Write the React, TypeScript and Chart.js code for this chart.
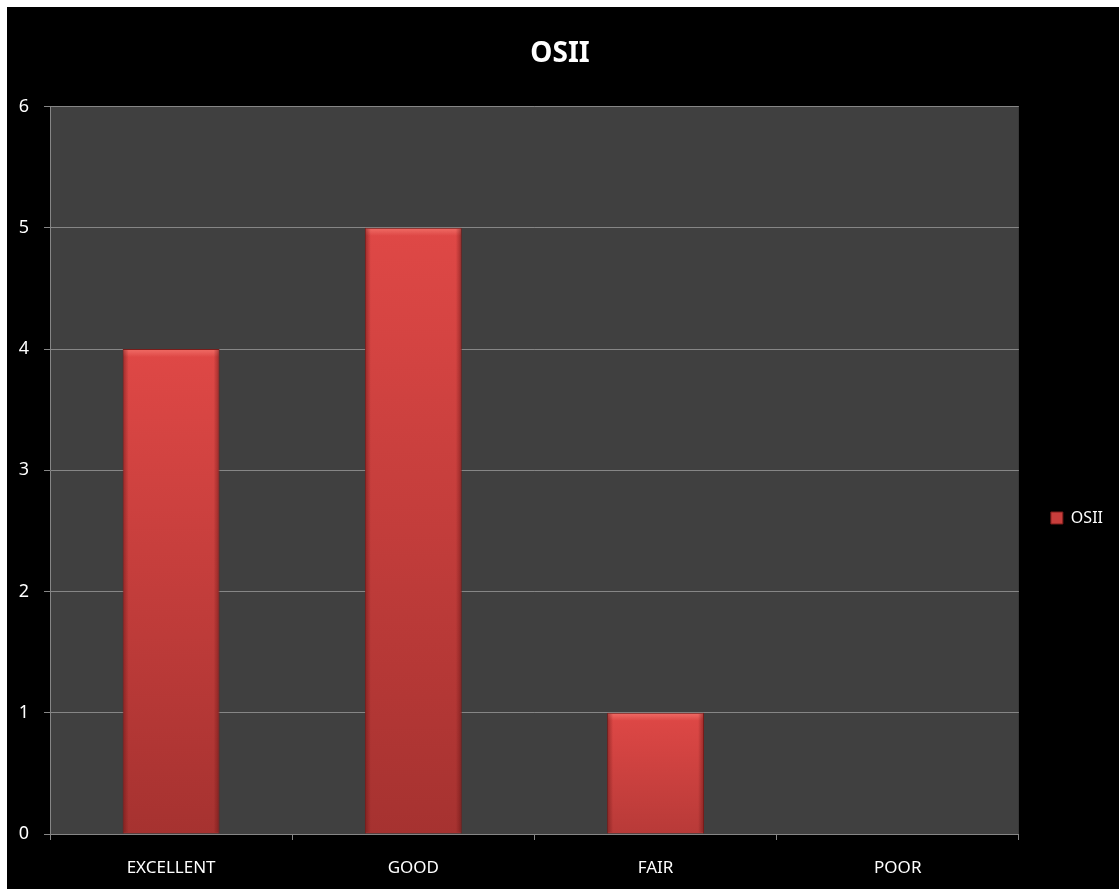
import React, { useEffect, useRef } from "react";
import { Chart, registerables } from "chart.js";

Chart.register(...registerables);

const categories = ["EXCELLENT", "GOOD", "FAIR", "POOR"];
const osiiValues = [4, 5, 1, 0];
const yTicks = [0, 1, 2, 3, 4, 5, 6];
const seriesName = "OSII";
const titleText = "OSII";

const FONT = "'Noto Sans', 'DejaVu Sans', sans-serif";

const plotBg = {
  id: "plotBg",
  beforeDraw(chart: any) {
    const { ctx, chartArea } = chart;
    if (!chartArea) return;
    ctx.save();
    ctx.fillStyle = "#404040";
    ctx.fillRect(chartArea.left, chartArea.top, chartArea.right - chartArea.left, chartArea.bottom - chartArea.top);
    ctx.restore();
  },
};

const bevel = {
  id: "bevel",
  afterDatasetsDraw(chart: any) {
    const { ctx } = chart;
    const meta = chart.getDatasetMeta(0);
    ctx.save();
    meta.data.forEach((bar: any) => {
      const h = bar.base - bar.y;
      if (h <= 1) return;
      const left = bar.x - bar.width / 2;
      const right = bar.x + bar.width / 2;
      const g = ctx.createLinearGradient(0, bar.y, 0, bar.y + 8);
      g.addColorStop(0, "rgba(255,140,130,0.55)");
      g.addColorStop(1, "rgba(255,140,130,0)");
      ctx.fillStyle = g;
      ctx.fillRect(left + 1, bar.y + 1, bar.width - 2, Math.min(8, h - 2));
      const gl = ctx.createLinearGradient(left, 0, left + 6, 0);
      gl.addColorStop(0, "rgba(90,15,15,0.5)");
      gl.addColorStop(1, "rgba(90,15,15,0)");
      ctx.fillStyle = gl;
      ctx.fillRect(left + 1, bar.y + 1, 6, h - 2);
      const gr = ctx.createLinearGradient(right, 0, right - 6, 0);
      gr.addColorStop(0, "rgba(90,15,15,0.5)");
      gr.addColorStop(1, "rgba(90,15,15,0)");
      ctx.fillStyle = gr;
      ctx.fillRect(right - 7, bar.y + 1, 6, h - 2);
    });
    ctx.restore();
  },
};

function barGradient(context: any) {
  const chart = context.chart;
  const y = chart.scales?.y;
  if (!y || context.type !== "data") return "#c83e3c";
  const v = context.parsed?.y ?? 0;
  const top = y.getPixelForValue(v);
  const base = y.getPixelForValue(0);
  if (!isFinite(top) || !isFinite(base) || base - top < 1) return "#c83e3c";
  const g = chart.ctx.createLinearGradient(0, top, 0, base);
  g.addColorStop(0, "#df4846");
  g.addColorStop(1, v >= 3 ? "#a63230" : "#b83a38");
  return g;
}

export default function App() {
  const ref = useRef<HTMLCanvasElement | null>(null);
  useEffect(() => {
    if (!ref.current) return;
    const chart = new Chart(ref.current, {
      type: "bar",
      data: {
        labels: categories,
        datasets: [
          {
            label: seriesName,
            data: osiiValues,
            backgroundColor: barGradient,
            borderColor: "#7a1c1a",
            borderWidth: 1,
            barPercentage: 0.4,
            categoryPercentage: 1,
          },
        ],
      },
      options: {
        animation: false,
        responsive: false,
        maintainAspectRatio: false,
        layout: { padding: { top: 0, left: 0, right: 6, bottom: 0 } },
        plugins: {
          title: {
            display: true,
            text: titleText,
            color: "#ffffff",
            font: { family: FONT, size: 28, weight: "bold" },
            padding: { top: 30, bottom: 36 },
          },
          legend: {
            display: true,
            position: "right",
            title: {
              display: true,
              text: " ",
              font: { family: FONT, size: 10 },
              padding: { top: 0, bottom: 128 },
            },
            labels: {
              color: "#ffffff",
              font: { family: FONT, size: 16 },
              boxWidth: 12,
              boxHeight: 12,
              padding: 32,
              generateLabels: () => [
                {
                  text: seriesName,
                  fillStyle: "#c83e3c",
                  strokeStyle: "#7a1c1a",
                  lineWidth: 1,
                  fontColor: "#ffffff",
                  datasetIndex: 0,
                },
              ],
            },
          },
          tooltip: { enabled: false },
        },
        scales: {
          x: {
            afterFit: (scale: any) => {
              scale.height = 55;
            },
            grid: {
              display: true,
              drawOnChartArea: false,
              drawTicks: true,
              tickLength: 6,
              color: "#868686",
              offset: true,
            },
            border: { display: true, color: "#868686", width: 1 },
            ticks: { color: "#ffffff", font: { family: FONT, size: 17 }, padding: 18 },
          },
          y: {
            min: 0,
            max: 6,
            afterFit: (scale: any) => {
              scale.width = 43;
            },
            afterBuildTicks: (axis: any) => {
              axis.ticks = yTicks.map((v) => ({ value: v }));
            },
            grid: {
              color: "#868686",
              drawTicks: true,
              tickLength: 6,
              lineWidth: 1,
            },
            border: { display: true, color: "#868686", width: 1 },
            ticks: { color: "#ffffff", font: { family: FONT, size: 18 }, padding: 15 },
          },
        },
      },
      plugins: [plotBg, bevel],
    });
    return () => chart.destroy();
  }, []);

  return (
    <div
      style={{
        position: "absolute",
        left: 7,
        top: 7,
        width: 1112,
        height: 882,
        background: "#000000",
      }}
    >
      <canvas ref={ref} width={1112} height={882} style={{ display: "block" }} />
    </div>
  );
}
